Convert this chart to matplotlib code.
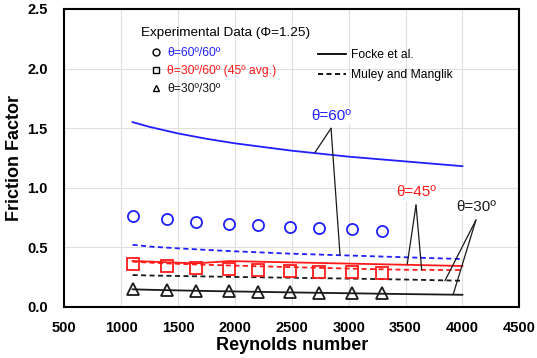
import matplotlib
matplotlib.use("Agg")
import matplotlib.pyplot as plt
from matplotlib.lines import Line2D

plt.rcParams['font.family'] = ['Liberation Sans', 'DejaVu Sans']

# experimental data
re_exp = [1100, 1400, 1660, 1950, 2200, 2480, 2740, 3030, 3290]
f_60 = [0.762, 0.734, 0.711, 0.694, 0.683, 0.669, 0.658, 0.650, 0.638]
f_45 = [0.357, 0.344, 0.328, 0.316, 0.308, 0.302, 0.294, 0.289, 0.283]
f_30 = [0.145, 0.140, 0.136, 0.130, 0.126, 0.122, 0.118, 0.115, 0.112]

# correlations
re_line = [1100, 1250, 1500, 1750, 2000, 2500, 3000, 3500, 4000]
focke_60 = [1.55, 1.51, 1.455, 1.41, 1.372, 1.31, 1.26, 1.22, 1.18]
muley_60 = [0.52, 0.505, 0.49, 0.477, 0.465, 0.445, 0.43, 0.415, 0.40]
re_f45 = [1100, 1660, 1950, 2500, 3000, 3500, 4000]
focke_45 = [0.384, 0.364, 0.383, 0.372, 0.362, 0.352, 0.342]
muley_45 = [0.378, 0.37, 0.36, 0.352, 0.345, 0.332, 0.32, 0.31, 0.308]
focke_30 = [0.146, 0.142, 0.137, 0.132, 0.128, 0.120, 0.113, 0.106, 0.100]
muley_30 = [0.266, 0.262, 0.258, 0.254, 0.25, 0.243, 0.236, 0.228, 0.218]

fig = plt.figure(figsize=(5.37, 3.58), dpi=100)
ax = fig.add_axes([64.3 / 537, 51.3 / 358, 455 / 537, 297.7 / 358])

dash = (0, (2.8, 1.9))
lw = 1.3
ax.plot(re_line, focke_60, color='#1f1fff', lw=lw)
ax.plot(re_line, muley_60, color='#1f1fff', lw=lw, ls=dash)
ax.plot(re_f45, focke_45, color='#ff1a1a', lw=lw)
ax.plot(re_line, muley_45, color='#ff1a1a', lw=lw, ls=dash)
ax.plot(re_line, focke_30, color='#1a1a1a', lw=lw)
ax.plot(re_line, muley_30, color='#1a1a1a', lw=lw, ls=dash)

ax.plot(re_exp, f_60, 'o', ms=8, mfc='none', mec='#1f1fff', mew=1.3)
ax.plot(re_exp, f_45, 's', ms=8, mfc='none', mec='#ff1a1a', mew=1.3)
ax.plot(re_exp, f_30, '^', ms=8, mfc='none', mec='#1a1a1a', mew=1.3)

# annotation labels with leader lines
def label(txt, color, xy_text, start, ends):
    for e in ends:
        ax.annotate('', xy=e, xytext=start,
                    arrowprops=dict(arrowstyle='-', color='#1a1a1a', lw=0.9,
                                    shrinkA=0, shrinkB=0))
    ax.text(xy_text[0], xy_text[1], txt, color=color, fontsize=11,
            ha='center', va='center', zorder=5,
            bbox=dict(fc='white', ec='none', pad=1))

label('θ=60º', '#1f1fff', (2851, 1.604), (2845, 1.498), [(2704, 1.296), (2924, 0.434)])
label('θ=45º', '#ff1a1a', (3598, 0.96), (3592, 0.854), [(3515, 0.358), (3642, 0.308)])
label('θ=30º', '#1a1a1a', (4125, 0.84), (4119, 0.728), [(3846, 0.218), (3920, 0.107)])

ax.set_xlim(500, 4500)
ax.set_ylim(0, 2.5)
ax.set_xticks([500, 1000, 1500, 2000, 2500, 3000, 3500, 4000, 4500])
ax.set_yticks([0, 0.5, 1.0, 1.5, 2.0, 2.5])
ax.yaxis.set_major_formatter(matplotlib.ticker.FormatStrFormatter('%.1f'))
ax.grid(True, color='#e0e0e0', lw=0.8)
ax.set_axisbelow(True)
ax.tick_params(length=0, labelsize=10.5, pad=10)
ax.tick_params(axis='y', pad=12)
for t in ax.get_xticklabels() + ax.get_yticklabels():
    t.set_fontweight('bold')
for s in ax.spines.values():
    s.set_linewidth(1.5)
ax.set_xlabel('Reynolds number', fontsize=13, fontweight='bold', labelpad=2)
ax.set_ylabel('Friction Factor', fontsize=13, fontweight='bold')
ax.yaxis.set_label_coords(-41 / 455, 0.5)

# legends
ax.text(0.168, 0.920, 'Experimental Data (Φ=1.25)', fontsize=9.7,
        transform=ax.transAxes, ha='left', va='center')
h1 = [Line2D([], [], marker='o', ls='none', mfc='none', mec='k', ms=5),
      Line2D([], [], marker='s', ls='none', mfc='none', mec='k', ms=5),
      Line2D([], [], marker='^', ls='none', mfc='none', mec='k', ms=5)]
leg1 = ax.legend(h1, ['θ=60º/60º', 'θ=30º/60º (45º avg.)', 'θ=30º/30º'],
                 fontsize=8.7, frameon=False, loc='upper left',
                 bbox_to_anchor=(0.192, 0.872), borderaxespad=0, borderpad=0,
                 handlelength=0.8, handletextpad=0.5, labelspacing=0.5,
                 labelcolor=['#1f1fff', '#ff1a1a', '#1a1a1a'])
ax.add_artist(leg1)
h2 = [Line2D([], [], color='k', lw=lw),
      Line2D([], [], color='k', lw=lw, ls=dash)]
ax.legend(h2, ['Focke et al.', 'Muley and Manglik'], fontsize=8.7,
          frameon=False, loc='upper left', bbox_to_anchor=(0.558, 0.865),
          borderaxespad=0, borderpad=0, handlelength=2.3, handletextpad=0.4,
          labelspacing=0.65)

fig.savefig('out.png', dpi=100)
